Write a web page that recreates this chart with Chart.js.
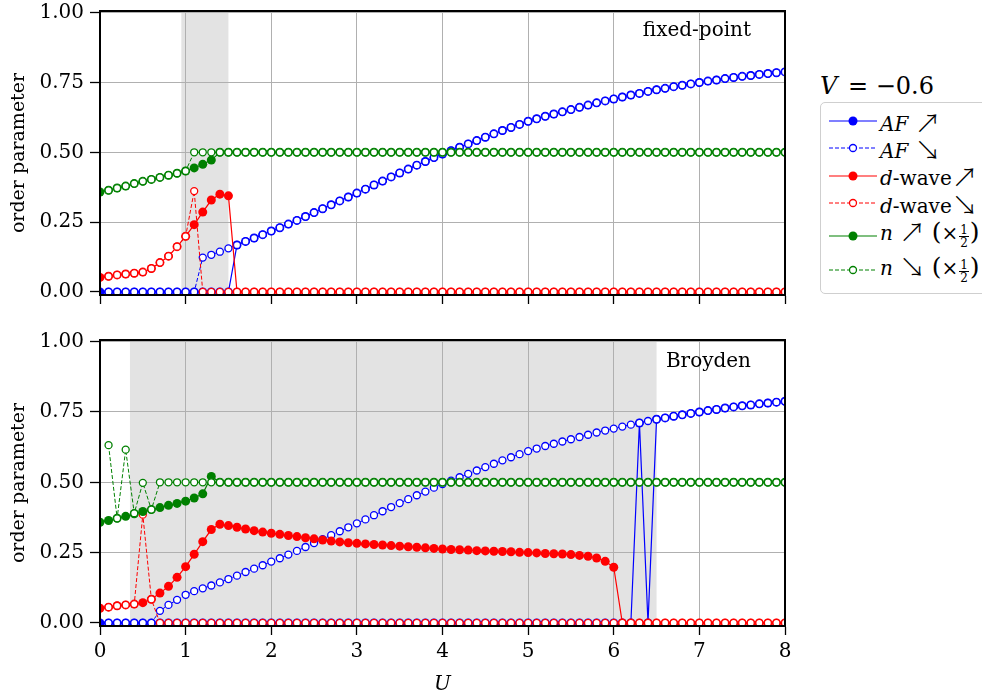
<!DOCTYPE html>
<html>
<head>
<meta charset="utf-8">
<script src="https://cdn.jsdelivr.net/npm/chart.js@4.4.1/dist/chart.umd.min.js"></script>
<style>
  html, body { margin: 0; padding: 0; background: #fff; }
  #wrap { position: relative; width: 982px; height: 697px; overflow: hidden; background: #fff;
          font-family: "DejaVu Serif", serif; color: #000; }
  canvas { position: absolute; left: 0; }
  #cTop { top: -17px; }
  #cBot { top: 312px; }
  #vlab { position: absolute; left: 820px; top: 74px; font-size: 24px; line-height: 24px; white-space: nowrap; }
  #vlab i { margin-right: 3px; }
  #legend { position: absolute; left: 820px; top: 102px; width: 200px; height: 190px;
            border: 1.5px solid #cfcfcf; border-radius: 5px; background: #fff; }
  .samp { position: absolute; left: 829px; width: 50px; height: 14px; }
  .ltxt { position: absolute; left: 880px; font-size: 20px; line-height: 20px; white-space: nowrap; }
  .arr { font-family: "Noto Sans CJK SC", "DejaVu Sans", sans-serif; font-weight: 300; font-size: 26px; line-height: 20px; vertical-align: -2px; }
  .par { font-size: 25px; }
  .frac { display: inline-block; vertical-align: -0.55em; text-align: center; font-size: 12px; line-height: 12px; margin: 0 1px; }
  .frac span { display: block; padding: 0 1px; }
  .frac .num { border-bottom: 1.3px solid #000; }
</style>
</head>
<body>
<div id="wrap">
  <canvas id="cTop" width="810" height="330"></canvas>
  <canvas id="cBot" width="810" height="387"></canvas>

  <div id="vlab"><i>V</i> = −0.6</div>
  <div id="legend"></div>

  <svg class="samp" style="top:114px" viewBox="0 0 50 14"><line x1="0" y1="7" x2="48" y2="7" stroke="#0000ff" stroke-width="1.2"/><circle cx="24" cy="7" r="4.5" fill="#0000ff"/></svg>
  <div class="ltxt" style="top:112px"><i>AF</i> <span class="arr">↗</span></div>

  <svg class="samp" style="top:141px" viewBox="0 0 50 14"><line x1="0" y1="7" x2="48" y2="7" stroke="#0000ff" stroke-width="1" stroke-dasharray="4 2"/><circle cx="24" cy="7" r="3.5" fill="#fff" stroke="#0000ff" stroke-width="1.3"/></svg>
  <div class="ltxt" style="top:139px"><i>AF</i> <span class="arr">↘</span></div>

  <svg class="samp" style="top:169px" viewBox="0 0 50 14"><line x1="0" y1="7" x2="48" y2="7" stroke="#ff0000" stroke-width="1.2"/><circle cx="24" cy="7" r="4.5" fill="#ff0000"/></svg>
  <div class="ltxt" style="top:166px"><i>d</i>-wave<span class="arr">↗</span></div>

  <svg class="samp" style="top:196px" viewBox="0 0 50 14"><line x1="0" y1="7" x2="48" y2="7" stroke="#ff0000" stroke-width="1" stroke-dasharray="4 2"/><circle cx="24" cy="7" r="3.5" fill="#fff" stroke="#ff0000" stroke-width="1.3"/></svg>
  <div class="ltxt" style="top:194px"><i>d</i>-wave<span class="arr">↘</span></div>

  <svg class="samp" style="top:229px" viewBox="0 0 50 14"><line x1="0" y1="7" x2="48" y2="7" stroke="#008000" stroke-width="1.2"/><circle cx="24" cy="7" r="4.5" fill="#008000"/></svg>
  <div class="ltxt" style="top:221px"><i>n</i> <span class="arr">↗</span> <span class="par">(</span>×<span class="frac"><span class="num">1</span><span>2</span></span><span class="par">)</span></div>

  <svg class="samp" style="top:263px" viewBox="0 0 50 14"><line x1="0" y1="7" x2="48" y2="7" stroke="#008000" stroke-width="1" stroke-dasharray="4 2"/><circle cx="24" cy="7" r="3.5" fill="#fff" stroke="#008000" stroke-width="1.3"/></svg>
  <div class="ltxt" style="top:256px"><i>n</i> <span class="arr">↘</span> <span class="par">(</span>×<span class="frac"><span class="num">1</span><span>2</span></span><span class="par">)</span></div>
</div>

<script>
// Interaction strength U, sampled every 0.1
const U = [
  0.0, 0.1, 0.2, 0.3, 0.4, 0.5, 0.6, 0.7, 0.8, 0.9,
  1.0, 1.1, 1.2, 1.3, 1.4, 1.5, 1.6, 1.7, 1.8, 1.9,
  2.0, 2.1, 2.2, 2.3, 2.4, 2.5, 2.6, 2.7, 2.8, 2.9,
  3.0, 3.1, 3.2, 3.3, 3.4, 3.5, 3.6, 3.7, 3.8, 3.9,
  4.0, 4.1, 4.2, 4.3, 4.4, 4.5, 4.6, 4.7, 4.8, 4.9,
  5.0, 5.1, 5.2, 5.3, 5.4, 5.5, 5.6, 5.7, 5.8, 5.9,
  6.0, 6.1, 6.2, 6.3, 6.4, 6.5, 6.6, 6.7, 6.8, 6.9,
  7.0, 7.1, 7.2, 7.3, 7.4, 7.5, 7.6, 7.7, 7.8, 7.9,
  8.0
];

const xTicks = [0, 1, 2, 3, 4, 5, 6, 7, 8];
const yTicks = [0, 0.25, 0.5, 0.75, 1.0];

// ---------- fixed-point iteration ----------
const afUpFixed = [
  0, 0, 0, 0, 0, 0, 0, 0, 0, 0,
  0, 0, 0, 0, 0, 0, 0.168, 0.181, 0.193, 0.205,
  0.218, 0.230, 0.243, 0.256, 0.270, 0.284, 0.298, 0.312, 0.326, 0.340,
  0.354, 0.368, 0.383, 0.397, 0.412, 0.426, 0.440, 0.454, 0.467, 0.481,
  0.494, 0.506, 0.518, 0.530, 0.542, 0.554, 0.566, 0.578, 0.589, 0.600,
  0.611, 0.620, 0.629, 0.637, 0.645, 0.653, 0.661, 0.669, 0.677, 0.684,
  0.691, 0.698, 0.705, 0.711, 0.718, 0.724, 0.729, 0.735, 0.740, 0.745,
  0.750, 0.755, 0.759, 0.764, 0.768, 0.772, 0.775, 0.779, 0.782, 0.785,
  0.788
];
const afDownFixed = [
  null, 0, 0, 0, 0, 0, 0, 0, 0, 0,
  0, 0, 0.123, 0.133, 0.144, 0.156, 0.168, 0.181, 0.193, 0.205,
  0.218, 0.230, 0.243, 0.256, 0.270, 0.284, 0.298, 0.312, 0.326, 0.340,
  0.354, 0.368, 0.383, 0.397, 0.412, 0.426, 0.440, 0.454, 0.467, 0.481,
  0.494, 0.506, 0.518, 0.530, 0.542, 0.554, 0.566, 0.578, 0.589, 0.600,
  0.611, 0.620, 0.629, 0.637, 0.645, 0.653, 0.661, 0.669, 0.677, 0.684,
  0.691, 0.698, 0.705, 0.711, 0.718, 0.724, 0.729, 0.735, 0.740, 0.745,
  0.750, 0.755, 0.759, 0.764, 0.768, 0.772, 0.775, 0.779, 0.782, 0.785,
  0.788
];
const dUpFixed = [
  0.052, 0.056, 0.061, 0.064, 0.067, 0.071, 0.084, 0.105, 0.128, 0.162,
  0.199, 0.241, 0.286, 0.329, 0.350, 0.344, 0, 0, 0, 0,
  0, 0, 0, 0, 0, 0, 0, 0, 0, 0,
  0, 0, 0, 0, 0, 0, 0, 0, 0, 0,
  0, 0, 0, 0, 0, 0, 0, 0, 0, 0,
  0, 0, 0, 0, 0, 0, 0, 0, 0, 0,
  0, 0, 0, 0, 0, 0, 0, 0, 0, 0,
  0, 0, 0, 0, 0, 0, 0, 0, 0, 0,
  0
];
const dDownFixed = [
  null, 0.056, 0.061, 0.064, 0.067, 0.071, 0.084, 0.105, 0.128, 0.162,
  0.199, 0.361, 0, 0, 0, 0, 0, 0, 0, 0,
  0, 0, 0, 0, 0, 0, 0, 0, 0, 0,
  0, 0, 0, 0, 0, 0, 0, 0, 0, 0,
  0, 0, 0, 0, 0, 0, 0, 0, 0, 0,
  0, 0, 0, 0, 0, 0, 0, 0, 0, 0,
  0, 0, 0, 0, 0, 0, 0, 0, 0, 0,
  0, 0, 0, 0, 0, 0, 0, 0, 0, 0,
  0
];
const nUpFixed = [
  0.358, 0.364, 0.372, 0.379, 0.388, 0.396, 0.403, 0.410, 0.418, 0.425,
  0.433, 0.444, 0.457, 0.472, 0.5, 0.5, 0.5, 0.5, 0.5, 0.5,
  0.5, 0.5, 0.5, 0.5, 0.5, 0.5, 0.5, 0.5, 0.5, 0.5,
  0.5, 0.5, 0.5, 0.5, 0.5, 0.5, 0.5, 0.5, 0.5, 0.5,
  0.5, 0.5, 0.5, 0.5, 0.5, 0.5, 0.5, 0.5, 0.5, 0.5,
  0.5, 0.5, 0.5, 0.5, 0.5, 0.5, 0.5, 0.5, 0.5, 0.5,
  0.5, 0.5, 0.5, 0.5, 0.5, 0.5, 0.5, 0.5, 0.5, 0.5,
  0.5, 0.5, 0.5, 0.5, 0.5, 0.5, 0.5, 0.5, 0.5, 0.5,
  0.5
];
const nDownFixed = [
  null, 0.364, 0.372, 0.379, 0.388, 0.396, 0.403, 0.410, 0.418, 0.425,
  0.433, 0.5, 0.5, 0.5, 0.5, 0.5, 0.5, 0.5, 0.5, 0.5,
  0.5, 0.5, 0.5, 0.5, 0.5, 0.5, 0.5, 0.5, 0.5, 0.5,
  0.5, 0.5, 0.5, 0.5, 0.5, 0.5, 0.5, 0.5, 0.5, 0.5,
  0.5, 0.5, 0.5, 0.5, 0.5, 0.5, 0.5, 0.5, 0.5, 0.5,
  0.5, 0.5, 0.5, 0.5, 0.5, 0.5, 0.5, 0.5, 0.5, 0.5,
  0.5, 0.5, 0.5, 0.5, 0.5, 0.5, 0.5, 0.5, 0.5, 0.5,
  0.5, 0.5, 0.5, 0.5, 0.5, 0.5, 0.5, 0.5, 0.5, 0.5,
  0.5
];

// ---------- Broyden mixing ----------
const afUpBroyden = [
  0, 0, 0, 0, 0, 0, 0, 0, 0, 0,
  0, 0, 0, 0, 0, 0, 0, 0, 0, 0,
  0, 0, 0, 0, 0, 0, 0, 0, 0, 0,
  0, 0, 0, 0, 0, 0, 0, 0, 0, 0,
  0, 0, 0, 0, 0, 0, 0, 0, 0, 0,
  0, 0, 0, 0, 0, 0, 0, 0, 0, 0,
  0, 0, 0, 0.711, 0, 0.724, 0.729, 0.735, 0.740, 0.745,
  0.750, 0.755, 0.759, 0.764, 0.768, 0.772, 0.775, 0.779, 0.782, 0.785,
  0.788
];
const afDownBroyden = [
  null, 0, 0, 0, 0, 0, 0, 0.043, 0.064, 0.082,
  0.100, 0.113, 0.123, 0.133, 0.144, 0.156, 0.168, 0.181, 0.193, 0.205,
  0.218, 0.230, 0.243, 0.256, 0.270, 0.284, 0.298, 0.312, 0.326, 0.340,
  0.354, 0.368, 0.383, 0.397, 0.412, 0.426, 0.440, 0.454, 0.467, 0.481,
  0.494, 0.506, 0.518, 0.530, 0.542, 0.554, 0.566, 0.578, 0.589, 0.600,
  0.611, 0.620, 0.629, 0.637, 0.645, 0.653, 0.661, 0.669, 0.677, 0.684,
  0.691, 0.698, 0.705, 0.711, 0.718, 0.724, 0.729, 0.735, 0.740, 0.745,
  0.750, 0.755, 0.759, 0.764, 0.768, 0.772, 0.775, 0.779, 0.782, 0.785,
  0.788
];
const dUpBroyden = [
  0.052, 0.056, 0.061, 0.064, 0.067, 0.072, 0.084, 0.106, 0.130, 0.162,
  0.200, 0.244, 0.289, 0.332, 0.351, 0.346, 0.340, 0.334, 0.328, 0.323,
  0.319, 0.315, 0.311, 0.307, 0.303, 0.299, 0.295, 0.291, 0.288, 0.285,
  0.283, 0.281, 0.279, 0.277, 0.275, 0.273, 0.271, 0.269, 0.267, 0.265,
  0.263, 0.261, 0.260, 0.259, 0.257, 0.256, 0.255, 0.254, 0.253, 0.251,
  0.250, 0.249, 0.247, 0.246, 0.245, 0.243, 0.240, 0.237, 0.231, 0.219,
  0.198, 0, 0, 0, 0, 0, 0, 0, 0, 0,
  0, 0, 0, 0, 0, 0, 0, 0, 0, 0,
  0
];
const dDownBroyden = [
  null, 0.056, 0.061, 0.064, 0.067, 0.385, 0.084, 0, 0, 0,
  0, 0, 0, 0, 0, 0, 0, 0, 0, 0,
  0, 0, 0, 0, 0, 0, 0, 0, 0, 0,
  0, 0, 0, 0, 0, 0, 0, 0, 0, 0,
  0, 0, 0, 0, 0, 0, 0, 0, 0, 0,
  0, 0, 0, 0, 0, 0, 0, 0, 0, 0,
  0, 0, 0, 0, 0, 0, 0, 0, 0, 0,
  0, 0, 0, 0, 0, 0, 0, 0, 0, 0,
  0
];
const nUpBroyden = [
  0.358, 0.364, 0.372, 0.379, 0.388, 0.396, 0.403, 0.410, 0.418, 0.425,
  0.433, 0.444, 0.459, 0.521, 0.5, 0.5, 0.5, 0.5, 0.5, 0.5,
  0.5, 0.5, 0.5, 0.5, 0.5, 0.5, 0.5, 0.5, 0.5, 0.5,
  0.5, 0.5, 0.5, 0.5, 0.5, 0.5, 0.5, 0.5, 0.5, 0.5,
  0.5, 0.5, 0.5, 0.5, 0.5, 0.5, 0.5, 0.5, 0.5, 0.5,
  0.5, 0.5, 0.5, 0.5, 0.5, 0.5, 0.5, 0.5, 0.5, 0.5,
  0.5, 0.5, 0.5, 0.5, 0.5, 0.5, 0.5, 0.5, 0.5, 0.5,
  0.5, 0.5, 0.5, 0.5, 0.5, 0.5, 0.5, 0.5, 0.5, 0.5,
  0.5
];
const nDownBroyden = [
  null, 0.632, 0.372, 0.616, 0.390, 0.498, 0.403, 0.5, 0.5, 0.5,
  0.5, 0.5, 0.5, 0.5, 0.5, 0.5, 0.5, 0.5, 0.5, 0.5,
  0.5, 0.5, 0.5, 0.5, 0.5, 0.5, 0.5, 0.5, 0.5, 0.5,
  0.5, 0.5, 0.5, 0.5, 0.5, 0.5, 0.5, 0.5, 0.5, 0.5,
  0.5, 0.5, 0.5, 0.5, 0.5, 0.5, 0.5, 0.5, 0.5, 0.5,
  0.5, 0.5, 0.5, 0.5, 0.5, 0.5, 0.5, 0.5, 0.5, 0.5,
  0.5, 0.5, 0.5, 0.5, 0.5, 0.5, 0.5, 0.5, 0.5, 0.5,
  0.5, 0.5, 0.5, 0.5, 0.5, 0.5, 0.5, 0.5, 0.5, 0.5,
  0.5
];

// hysteresis windows (U range) shaded in grey
const windowFixed = [0.95, 1.5];
const windowBroyden = [0.35, 6.5];

const BLUE = '#0000ff', RED = '#ff0000', GREEN = '#008000';
const FONT = '"DejaVu Serif", serif';

function series(label, values, color, sweepUp, order) {
  return {
    label,
    data: U.map((u, i) => ({ x: u, y: values[i] })),
    borderColor: color,
    borderWidth: sweepUp ? 1.2 : 1,
    borderDash: sweepUp ? [] : [4, 2],
    pointRadius: sweepUp ? 4.5 : 3.5,
    pointHoverRadius: sweepUp ? 4.5 : 3.5,
    pointBorderWidth: sweepUp ? 0 : 1.3,
    pointBackgroundColor: sweepUp ? color : '#ffffff',
    pointBorderColor: color,
    fill: false,
    tension: 0,
    spanGaps: false,
    order
  };
}

const panelDecor = {
  id: 'panelDecor',
  beforeDraw(chart, args, opts) {
    const { ctx, chartArea: a, scales: { x } } = chart;
    const x0 = x.getPixelForValue(opts.band[0]);
    const x1 = x.getPixelForValue(opts.band[1]);
    ctx.save();
    ctx.fillStyle = '#e3e3e3';
    ctx.fillRect(x0, a.top, x1 - x0, a.bottom - a.top);
    ctx.restore();
  },
  afterDatasetsDraw(chart, args, opts) {
    const { ctx, chartArea: a } = chart;
    ctx.save();
    ctx.strokeStyle = '#000';
    ctx.lineWidth = 2;
    ctx.strokeRect(a.left, a.top, a.right - a.left, a.bottom - a.top);
    ctx.fillStyle = '#000';
    ctx.font = '20px ' + FONT;
    ctx.textAlign = 'right';
    ctx.textBaseline = 'alphabetic';
    ctx.fillText(opts.label, 751, a.top + opts.labelDy);
    ctx.restore();
  }
};

function makePanel(canvasId, sets, band, label, labelDy, showX, xAxisHeight) {
  return new Chart(document.getElementById(canvasId), {
    type: 'line',
    data: {
      datasets: [
        series('AF up', sets[0], BLUE, true, 6),
        series('AF down', sets[1], BLUE, false, 5),
        series('d-wave up', sets[2], RED, true, 4),
        series('d-wave down', sets[3], RED, false, 3),
        series('n up', sets[4], GREEN, true, 2),
        series('n down', sets[5], GREEN, false, 1)
      ]
    },
    plugins: [panelDecor],
    options: {
      responsive: false,
      animation: false,
      events: [],
      layout: { padding: { left: 0, right: 25, top: 28, bottom: 0 } },
      plugins: {
        legend: { display: false },
        tooltip: { enabled: false },
        panelDecor: { band, label, labelDy }
      },
      scales: {
        x: {
          type: 'linear',
          min: 0, max: 8,
          afterBuildTicks: s => { s.ticks = xTicks.map(v => ({ value: v })); },
          afterFit: s => { s.height = xAxisHeight; },
          grid: { color: '#b0b0b0', lineWidth: 1, tickColor: '#000', tickLength: 9, tickWidth: 1.3, drawTicks: true },
          border: { color: '#000', width: 2 },
          ticks: {
            display: showX, color: '#000', padding: 5, maxRotation: 0,
            font: { family: FONT, size: 20 },
            callback: v => String(v)
          },
          title: {
            display: showX, text: 'U', color: '#000',
            font: { family: FONT, size: 20, style: 'italic' },
            padding: { top: 0, bottom: 2.5 }
          }
        },
        y: {
          min: -0.011, max: 1.006,
          afterBuildTicks: s => { s.ticks = yTicks.map(v => ({ value: v })); },
          afterFit: s => { s.width = 100; },
          grid: { color: '#b0b0b0', lineWidth: 1, tickColor: '#000', tickLength: 10, tickWidth: 1.3, drawTicks: true },
          border: { color: '#000', width: 2 },
          ticks: {
            color: '#000', padding: 6,
            font: { family: FONT, size: 20 },
            callback: v => v.toFixed(2)
          },
          title: {
            display: true, text: 'order parameter', color: '#000',
            font: { family: FONT, size: 19 },
            padding: { top: 8, bottom: 0 }
          }
        }
      }
    }
  });
}

makePanel('cTop',
  [afUpFixed, afDownFixed, dUpFixed, dDownFixed, nUpFixed, nDownFixed],
  windowFixed, 'fixed-point', 25, false, 16);
makePanel('cBot',
  [afUpBroyden, afDownBroyden, dUpBroyden, dDownBroyden, nUpBroyden, nDownBroyden],
  windowBroyden, 'Broyden', 26.5, true, 73);
</script>
</body>
</html>
